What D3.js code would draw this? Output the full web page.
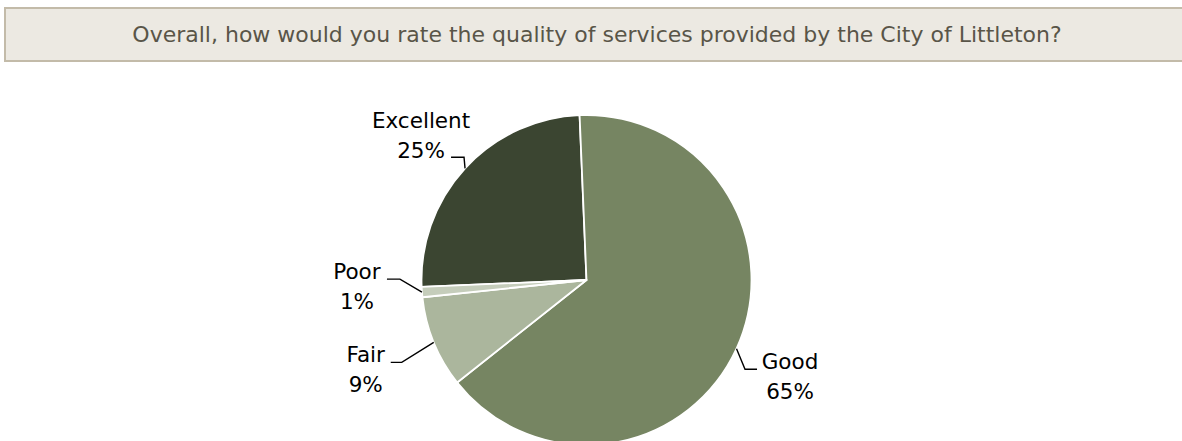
<!DOCTYPE html>
<html>
<head>
<meta charset="utf-8">
<script src="https://cdn.jsdelivr.net/npm/d3@7"></script>
<style>
  html, body { margin: 0; padding: 0; background: #ffffff; }
  svg { display: block; }
  text { font-family: "DejaVu Sans", Verdana, sans-serif; }
</style>
</head>
<body>
<svg id="chart" width="1182" height="441"></svg>
<script>
// Survey question and response shares (percent)
const title = "Overall, how would you rate the quality of services provided by the City of Littleton?";
const categories = ["Excellent", "Good", "Fair", "Poor"];
const shares = [25, 65, 9, 1];
const sliceColors = ["#3b4531", "#768562", "#abb69d", "#c5cdbb"];

// Label placement relative to each slice's rim point: text block, leader elbow, leader end
const labelLayout = {
  Excellent: { text: [-44, -40], elbow: [-1, -11], end: [-14, -11] },
  Good:      { text: [53.5, 20.5], elbow: [8.5, 20.5], end: [20.5, 20.5] },
  Fair:      { text: [-68, 20], elbow: [-32, 20], end: [-43, 20] },
  Poor:      { text: [-65, -13], elbow: [-22, -13], end: [-35, -13] }
};

const width = 1182, height = 441;
const svg = d3.select("#chart");

// Title banner
svg.append("rect")
  .attr("x", 5).attr("y", 8)
  .attr("width", 1200).attr("height", 53)
  .attr("fill", "#ece9e2")
  .attr("stroke", "#c3bba9")
  .attr("stroke-width", 2);

svg.append("text")
  .attr("x", 597).attr("y", 41.5)
  .attr("text-anchor", "middle")
  .attr("font-size", "22px")
  .attr("fill", "#595548")
  .text(title);

// Pie
const cx = 586.5, cy = 280, radius = 165;
const startDeg = 267.6;
const data = categories.map((c, i) => ({ category: c, value: shares[i], color: sliceColors[i] }));

const pie = d3.pie()
  .value(d => d.value)
  .sort(null)
  .startAngle(startDeg * Math.PI / 180)
  .endAngle((startDeg + 360) * Math.PI / 180);

const arc = d3.arc().innerRadius(0).outerRadius(radius);
const rimArc = d3.arc().innerRadius(radius).outerRadius(radius);

const g = svg.append("g").attr("transform", `translate(${cx},${cy})`);
const arcs = pie(data);

g.selectAll("path.slice")
  .data(arcs)
  .join("path")
  .attr("class", "slice")
  .attr("d", arc)
  .attr("fill", d => d.data.color)
  .attr("stroke", "#ffffff")
  .attr("stroke-width", 1.8)
  .attr("stroke-linejoin", "round");

// Data labels with leader lines
const labels = g.selectAll("g.label")
  .data(arcs)
  .join("g")
  .attr("class", "label");

labels.append("path")
  .attr("fill", "none")
  .attr("stroke", "#000000")
  .attr("stroke-width", 1.4)
  .attr("d", d => {
    const [ax, ay] = rimArc.centroid(d);
    const L = labelLayout[d.data.category];
    return `M${ax},${ay}L${ax + L.elbow[0]},${ay + L.elbow[1]}L${ax + L.end[0]},${ay + L.end[1]}`;
  });

labels.append("text")
  .attr("text-anchor", "middle")
  .attr("font-size", "21.5px")
  .attr("fill", "#000000")
  .each(function (d) {
    const [ax, ay] = rimArc.centroid(d);
    const L = labelLayout[d.data.category];
    const x = ax + L.text[0], y = ay + L.text[1];
    const t = d3.select(this);
    t.append("tspan").attr("x", x).attr("y", y).text(d.data.category);
    t.append("tspan").attr("x", x).attr("y", y + 29.5).text(d3.format(".0f")(d.data.value) + "%");
  });
</script>
</body>
</html>
